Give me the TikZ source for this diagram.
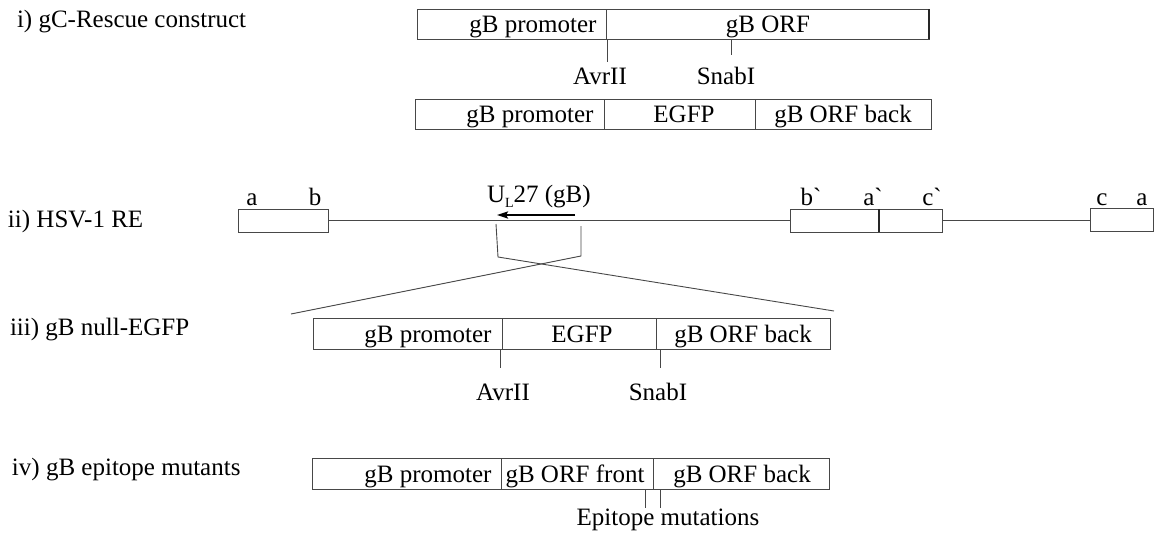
\documentclass[tikz,border=0pt]{standalone}
\usepackage{fontspec}
\setmainfont{Liberation Serif}
\newfontfamily\rawserif{Liberation Serif}[Ligatures={}]
\usetikzlibrary{arrows.meta}
\newcommand{\grv}{{\rawserif\char"60\relax}}
\begin{document}
\begin{tikzpicture}[x=1pt,y=-1pt,
  every node/.style={inner sep=0pt,outer sep=0pt},
  txt/.style={font=\fontsize{25}{30}\selectfont,anchor=base},
  lbl/.style={font=\fontsize{25}{30}\selectfont,anchor=base west},
  ln/.style={draw=black!72,line width=0.9pt},
  thk/.style={draw=black!85,line width=1.6pt},
  seg/.style={ln,fill=white}]
\useasboundingbox (0,0) rectangle (1155,533);

% ---- left labels
\node[lbl] (Li) at (17,27) {i) gC-Rescue construct};
\node[lbl] (Lii) at (8,227) {ii) HSV-1 RE};
\node[lbl] (Liii) at (10,335) {iii) gB null-EGFP};
\node[lbl] (Liv) at (12,475) {iv) gB epitope mutants};

% ---- row i, first construct
\draw[seg] (417,9) rectangle (606,39);
\draw[seg] (606,9) rectangle (929,39);
\draw[thk] (929,9) -- (929,39);
\node[txt] (r1p) at (533,32.5) {gB promoter};
\node[txt] (r1o) at (768,32.5) {gB ORF};
\coordinate (r1a) at (607,39); \coordinate (r1ae) at (607,62);
\coordinate (r1s) at (731,39); \coordinate (r1se) at (731,55);
\draw[ln] (r1a) -- (r1ae);
\draw[ln] (r1s) -- (r1se);
\node[txt] (r1avr) at (600,84) {AvrII};
\node[txt] (r1sna) at (726,84) {SnabI};

% ---- row i, second construct
\draw[seg] (415,99) rectangle (604,129);
\draw[seg] (604,99) rectangle (755,129);
\draw[seg] (755,99) rectangle (931,129);
\node[txt] (r2p) at (530,122.5) {gB promoter};
\node[txt] (r2e) at (684,122.5) {EGFP};
\node[txt] (r2b) at (843,122.5) {gB ORF back};

% ---- row ii, genome
\draw[seg] (238,209) rectangle (328,232);
\coordinate (g1) at (328,220); \coordinate (g2) at (790,220);
\draw[ln] (g1) -- (g2);
\draw[seg] (790,209) rectangle (942,232);
\draw[thk] (879,209) -- (879,232);
\coordinate (g3) at (942,220); \coordinate (g4) at (1090,220);
\draw[ln] (g3) -- (g4);
\draw[seg] (1090,208) rectangle (1153,231);
\node[txt] (la1) at (252,205) {a};
\node[txt] (lb1) at (315,205) {b};
\node[txt] (lb2) at (811,205) {b\grv};
\node[txt] (la2) at (873,205) {a\grv};
\node[txt] (lc2) at (932,205) {c\grv};
\node[txt] (lc3) at (1102,205) {c};
\node[txt] (la3) at (1142,205) {a};
\node[lbl] (ul27) at (487,202) {U\raisebox{-5pt}{\fontsize{14}{14}\selectfont L}27 (gB)};
\coordinate (arS) at (575,215); \coordinate (arE) at (497,215);
\draw[draw=black,line width=2.2pt,-{Stealth[length=11pt,width=7pt,inset=2pt]}] (arS) -- (arE);

% ---- crossover
\coordinate (cxL) at (496,224); \coordinate (cxLb) at (498,257);
\coordinate (cxR) at (581,226); \coordinate (cxRb) at (581,256);
\coordinate (cxEndR) at (834,311); \coordinate (cxEndL) at (291,314);
\draw[ln] (cxL) -- (cxLb) -- (cxEndR);
\draw[ln] (cxR) -- (cxRb) -- (cxEndL);

% ---- row iii
\draw[seg] (313,318) rectangle (502,349);
\draw[seg] (502,318) rectangle (656,349);
\draw[seg] (656,318) rectangle (830,349);
\node[txt] (r3p) at (428,342) {gB promoter};
\node[txt] (r3e) at (582,342) {EGFP};
\node[txt] (r3b) at (743,342) {gB ORF back};
\coordinate (r3a) at (500,349); \coordinate (r3ae) at (500,368);
\coordinate (r3s) at (660,349); \coordinate (r3se) at (660,368);
\draw[ln] (r3a) -- (r3ae);
\draw[ln] (r3s) -- (r3se);
\node[txt] (r3avr) at (503,400) {AvrII};
\node[txt] (r3sna) at (658,400) {SnabI};

% ---- row iv
\draw[seg] (312,458) rectangle (501,489);
\draw[seg] (501,458) rectangle (653,489);
\draw[seg] (653,458) rectangle (829,489);
\node[txt] (r4p) at (428,482) {gB promoter};
\node[txt] (r4f) at (575,482) {gB ORF front};
\node[txt] (r4b) at (742,482) {gB ORF back};
\coordinate (m1) at (645,489); \coordinate (m1e) at (645,508);
\coordinate (m2) at (660,489); \coordinate (m2e) at (660,508);
\draw[ln] (m1) -- (m1e);
\draw[ln] (m2) -- (m2e);
\node[txt] (epi) at (668,525) {Epitope mutations};
\end{tikzpicture}
\end{document}
